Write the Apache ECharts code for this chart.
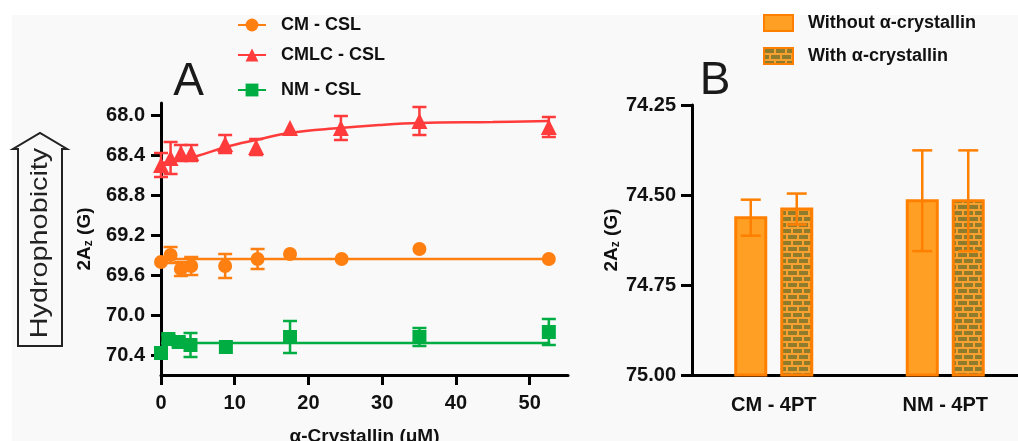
<!DOCTYPE html>
<html><head><meta charset="utf-8">
<script src="https://cdn.jsdelivr.net/npm/echarts@6/dist/echarts.min.js"></script>
<style>html,body{margin:0;padding:0;background:#fff}#c{width:1018px;height:441px}</style>
</head><body><div id="c"></div>
<script>
// ---------- Panel A data ----------
const cmX   = [0, 1.3, 2.7, 4.1, 8.7, 13.1, 17.5, 24.5, 35.05, 52.6];
const cmY   = [69.47, 69.40, 69.54, 69.51, 69.51, 69.44, 69.39, 69.44, 69.34, 69.44];
const cmErr = [0, 0.08, 0.07, 0.09, 0.12, 0.10, 0, 0, 0, 0];
const cmlcX   = [0, 1.3, 2.7, 4.1, 8.7, 12.9, 17.5, 24.4, 35.05, 52.6];
const cmlcY   = [68.50, 68.43, 68.38, 68.38, 68.29, 68.32, 68.13, 68.13, 68.06, 68.12];
const cmlcErr = [0.12, 0.16, 0.08, 0.08, 0.09, 0.08, 0, 0.12, 0.14, 0.10];
const nmX   = [0, 1.0, 2.4, 4.0, 8.8, 17.5, 35.05, 52.6];
const nmY   = [70.38, 70.24, 70.27, 70.30, 70.32, 70.22, 70.22, 70.17];
const nmErr = [0.03, 0.04, 0.04, 0.12, 0, 0.16, 0.09, 0.13];
// fitted curves
const cmFitX = [0, 52.8];
const cmFitY = [69.44, 69.44];
const cmlcFitX = [0, 2, 4.9, 8.8, 12.9, 17.4, 24.2, 29.6, 35, 45, 52.7];
const cmlcFitY = [68.48, 68.46, 68.41, 68.32, 68.25, 68.18, 68.13, 68.10, 68.08, 68.07, 68.06];
const nmFitX = [0, 52.8];
const nmFitY = [70.28, 70.28];
const aYTicks = [68.0, 68.4, 68.8, 69.2, 69.6, 70.0, 70.4];
const aXTicks = [0, 10, 20, 30, 40, 50];
const seriesNamesA = ['CM - CSL', 'CMLC - CSL', 'NM - CSL'];
// ---------- Panel B data ----------
const barCategories = ['CM - 4PT', 'NM - 4PT'];
const withoutMean = [74.563, 74.516];
const withoutErr  = [0.05, 0.14];
const withMean    = [74.539, 74.516];
const withErr     = [0.043, 0.14];
const bYTicks = [74.25, 74.50, 74.75, 75.00];
const seriesNamesB = ['Without α-crystallin', 'With α-crystallin'];

// ---------- styles ----------
const FONT = 'Liberation Sans, Arial, sans-serif';
const ORANGE = '#ff7f11', RED = '#ff3b3b', GREEN = '#00ad43';
const BAR_FILL = '#ffa024', BAR_EDGE = '#ff7f00';

function brickCanvas() {
  const c = document.createElement('canvas');
  c.width = 22; c.height = 12;
  const g = c.getContext('2d');
  g.fillStyle = '#f8a030'; g.fillRect(0, 0, 22, 12);
  g.fillStyle = '#8e7c2c';
  g.fillRect(1, 1, 9, 4); g.fillRect(12, 1, 9, 4);
  g.fillRect(-4, 7, 9, 4); g.fillRect(7, 7, 9, 4); g.fillRect(18, 7, 9, 4);
  return c;
}
const BRICK = { image: brickCanvas(), repeat: 'repeat' };

const zip3 = (a, b, c) => a.map((v, i) => [v, b[i], c[i]]);
const zip2 = (a, b) => a.map((v, i) => [v, b[i]]);

function errRender(color, cap) {
  return function (params, api) {
    const x = api.value(0), m = api.value(1), e = api.value(2);
    if (!e) return { type: 'group', children: [] };
    const p1 = api.coord([x, m - e]), p2 = api.coord([x, m + e]);
    const st = { stroke: color, lineWidth: 2.5 };
    return { type: 'group', children: [
      { type: 'line', shape: { x1: p1[0], y1: p1[1], x2: p2[0], y2: p2[1] }, style: st },
      { type: 'line', shape: { x1: p1[0] - cap, y1: p1[1], x2: p1[0] + cap, y2: p1[1] }, style: st },
      { type: 'line', shape: { x1: p2[0] - cap, y1: p2[1], x2: p2[0] + cap, y2: p2[1] }, style: st }
    ]};
  };
}

function barRender(offset, fill) {
  return function (params, api) {
    const ci = api.value(0), v = api.value(1), e = api.value(2);
    const top = api.coord([ci, v]);
    const base = api.coord([ci, 75]);
    const cx = top[0] + offset, w = 30;
    const e1 = api.coord([ci, v - e]), e2 = api.coord([ci, v + e]);
    const st = { stroke: BAR_EDGE, lineWidth: 2.5 };
    const cap = 10;
    return { type: 'group', children: [
      { type: 'rect', shape: { x: cx - w / 2, y: top[1], width: w, height: base[1] - top[1] },
        style: { fill: fill, stroke: BAR_EDGE, lineWidth: 3 } },
      { type: 'line', shape: { x1: cx, y1: e1[1], x2: cx, y2: e2[1] }, style: st },
      { type: 'line', shape: { x1: cx - cap, y1: e1[1], x2: cx + cap, y2: e1[1] }, style: st },
      { type: 'line', shape: { x1: cx - cap, y1: e2[1], x2: cx + cap, y2: e2[1] }, style: st }
    ]};
  };
}

const axisLineStyle = { show: true, lineStyle: { color: '#000', width: 3 } };
const labelStyle = { color: '#111', fontFamily: FONT, fontWeight: 'bold', fontSize: 20 };
const yName = '{b|2A}{s|z}{b| (G)}';
const yNameStyle = { rich: {
  b: { fontFamily: FONT, fontWeight: 'bold', fontSize: 19, color: '#111' },
  s: { fontFamily: FONT, fontWeight: 'bold', fontSize: 12, color: '#111', padding: [9, 0, 0, 0] }
}};

const legendText = { fontFamily: FONT, fontWeight: 'bold', fontSize: 18, color: '#111', padding: [0, 0, 0, 10] };
function legendA(name, top) {
  return { data: [name], left: 237, top: top, itemWidth: 28, itemHeight: 16, selectedMode: false,
    padding: 0, textStyle: legendText };
}

const option = {
  backgroundColor: '#fff',
  animation: false,
  graphic: [
    { type: 'rect', z: -100, shape: { x: 12, y: 15, width: 1006, height: 426 }, style: { fill: '#f9f9f9' } },
    { type: 'polygon', shape: { points: [[18, 346], [62, 346], [62, 149], [67, 149], [40, 133], [13, 149], [18, 149]] },
      style: { fill: 'none', stroke: '#222', lineWidth: 2 } },
    { type: 'text', x: 40, y: 243, rotation: Math.PI / 2, scaleX: 1.2,
      style: { text: 'Hydrophobicity', fontFamily: FONT, fontSize: 24, fill: '#222', align: 'center', verticalAlign: 'middle' } },
    { type: 'text', x: 188.5, y: 82, style: { text: 'A', fontFamily: FONT, fontSize: 46, fill: '#1a1a1a', align: 'center', verticalAlign: 'middle' } },
    { type: 'text', x: 715, y: 81, style: { text: 'B', fontFamily: FONT, fontSize: 46, fill: '#1a1a1a', align: 'center', verticalAlign: 'middle' } }
  ],
  legend: [
    legendA(seriesNamesA[0], 16),
    legendA(seriesNamesA[1], 46),
    legendA(seriesNamesA[2], 81),
    { data: [
        { name: seriesNamesB[0], itemStyle: { color: BAR_FILL, borderColor: BAR_EDGE, borderWidth: 2 } },
        { name: seriesNamesB[1], itemStyle: { color: BRICK, borderColor: BAR_EDGE, borderWidth: 2 } }
      ],
      orient: 'vertical', left: 763, top: 14, itemGap: 15, itemWidth: 29, itemHeight: 16, icon: 'rect',
      selectedMode: false, padding: 0, textStyle: legendText }
  ],
  grid: [
    { left: 161, top: 103, width: 407, height: 272, outerBoundsMode: 'none', containLabel: false },
    { left: 688, top: 105, width: 343, height: 270, outerBoundsMode: 'none', containLabel: false }
  ],
  xAxis: [
    {
      type: 'value', gridIndex: 0, min: 0, max: 55.2, splitLine: { show: false },
      axisLine: axisLineStyle,
      axisTick: { show: true, lineStyle: { color: '#000', width: 3 }, length: 10, customValues: aXTicks },
      axisLabel: Object.assign({ show: true, margin: 18, customValues: aXTicks }, labelStyle),
      name: 'α-Crystallin (μM)', nameLocation: 'middle', nameGap: 52,
      nameTextStyle: { fontFamily: FONT, fontWeight: 'bold', fontSize: 19, color: '#111' }
    },
    {
      type: 'category', gridIndex: 1, data: barCategories, splitLine: { show: false },
      axisLine: axisLineStyle,
      axisTick: { show: false },
      axisLabel: Object.assign({ margin: 20 }, labelStyle)
    }
  ],
  yAxis: [
    {
      type: 'value', gridIndex: 0, inverse: true, min: 67.88, max: 70.6, splitLine: { show: false },
      axisLine: axisLineStyle,
      axisTick: { show: true, lineStyle: { color: '#000', width: 3 }, length: 10, customValues: aYTicks },
      axisLabel: Object.assign({ show: true, margin: 16, customValues: aYTicks, formatter: v => v.toFixed(1) }, labelStyle),
      name: yName, nameLocation: 'middle', nameGap: 66, nameTextStyle: yNameStyle
    },
    {
      type: 'value', gridIndex: 1, inverse: true, min: 74.25, max: 75, interval: 0.25, splitLine: { show: false },
      offset: -4,
      axisLine: axisLineStyle,
      axisTick: { show: true, lineStyle: { color: '#000', width: 3 }, length: 11 },
      axisLabel: Object.assign({ show: true, margin: 16, formatter: v => v.toFixed(2) }, labelStyle),
      name: yName, nameLocation: 'middle', nameGap: 70, nameTextStyle: yNameStyle
    }
  ],
  series: [
    // fitted lines (carry the legend entries)
    { name: seriesNamesA[0], type: 'line', xAxisIndex: 0, yAxisIndex: 0, data: zip2(cmFitX, cmFitY),
      showSymbol: false, symbol: 'circle', symbolSize: 13, lineStyle: { color: ORANGE, width: 2.5 }, itemStyle: { color: ORANGE }, z: 2 },
    { name: seriesNamesA[1], type: 'line', xAxisIndex: 0, yAxisIndex: 0, data: zip2(cmlcFitX, cmlcFitY), smooth: 0.4,
      showSymbol: false, symbol: 'triangle', symbolSize: 14, lineStyle: { color: RED, width: 2.5 }, itemStyle: { color: RED }, z: 2 },
    { name: seriesNamesA[2], type: 'line', xAxisIndex: 0, yAxisIndex: 0, data: zip2(nmFitX, nmFitY),
      showSymbol: false, symbol: 'rect', symbolSize: 13, lineStyle: { color: GREEN, width: 2.5 }, itemStyle: { color: GREEN }, z: 2 },
    // error bars
    { type: 'custom', xAxisIndex: 0, yAxisIndex: 0, renderItem: errRender(ORANGE, 7), data: zip3(cmX, cmY, cmErr), encode: { x: 0, y: 1 }, z: 3 },
    { type: 'custom', xAxisIndex: 0, yAxisIndex: 0, renderItem: errRender(RED, 7), data: zip3(cmlcX, cmlcY, cmlcErr), encode: { x: 0, y: 1 }, z: 3 },
    { type: 'custom', xAxisIndex: 0, yAxisIndex: 0, renderItem: errRender(GREEN, 7), data: zip3(nmX, nmY, nmErr), encode: { x: 0, y: 1 }, z: 3 },
    // data points
    { name: 'cm-pts', type: 'scatter', xAxisIndex: 0, yAxisIndex: 0, data: zip2(cmX, cmY), symbol: 'circle', symbolSize: 14, itemStyle: { color: ORANGE, opacity: 1 }, z: 4 },
    { name: 'cmlc-pts', type: 'scatter', xAxisIndex: 0, yAxisIndex: 0, data: zip2(cmlcX, cmlcY), symbol: 'triangle', symbolSize: 16, itemStyle: { color: RED, opacity: 1 }, z: 4 },
    { name: 'nm-pts', type: 'scatter', xAxisIndex: 0, yAxisIndex: 0, data: zip2(nmX, nmY), symbol: 'rect', symbolSize: 14, itemStyle: { color: GREEN, opacity: 1 }, z: 4 },
    // panel B bars
    { name: seriesNamesB[0], type: 'custom', xAxisIndex: 1, yAxisIndex: 1, renderItem: barRender(-23, BAR_FILL),
      data: zip3([0, 1], withoutMean, withoutErr), encode: { x: 0, y: 1 },
      itemStyle: { color: BAR_FILL, borderColor: BAR_EDGE, borderWidth: 2 } },
    { name: seriesNamesB[1], type: 'custom', xAxisIndex: 1, yAxisIndex: 1, renderItem: barRender(23, BRICK),
      data: zip3([0, 1], withMean, withErr), encode: { x: 0, y: 1 },
      itemStyle: { color: BRICK, borderColor: BAR_EDGE, borderWidth: 2 } }
  ]
};

const chart = echarts.init(document.getElementById('c'), null, { renderer: 'canvas' });
chart.setOption(option);
</script></body></html>
